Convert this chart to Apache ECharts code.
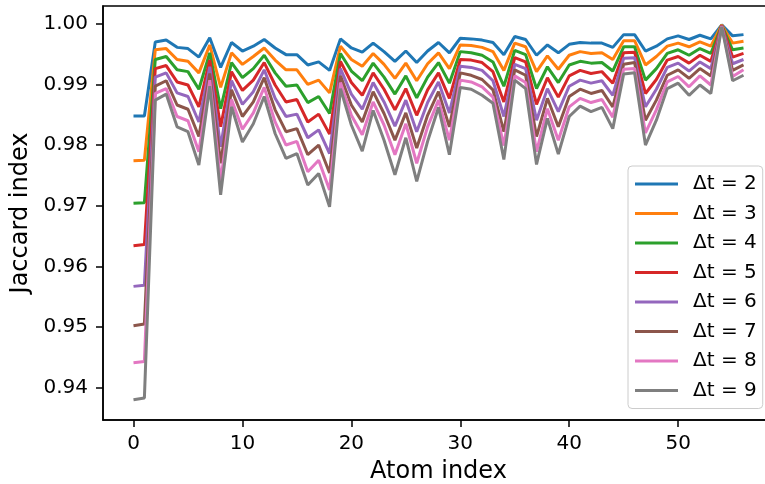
<!DOCTYPE html>
<html>
<head>
<meta charset="utf-8">
<script src="https://cdn.jsdelivr.net/npm/echarts@6/dist/echarts.min.js"></script>
<style>html,body{margin:0;padding:0;background:#fff;}#c{width:765px;height:484px;}</style>
</head>
<body>
<div id="c"></div>
<script>
const seriesNames = ['Δt = 2','Δt = 3','Δt = 4','Δt = 5','Δt = 6','Δt = 7','Δt = 8','Δt = 9'];
const colors = ['#1f77b4','#ff7f0e','#2ca02c','#d62728','#9467bd','#8c564b','#e377c2','#7f7f7f'];
const xTicks = [0,10,20,30,40,50];
const yTicks = [0.94,0.95,0.96,0.97,0.98,0.99,1.00];

const dt2 = [0.9848,0.9848,0.9970,0.9973,0.9961,0.9959,0.9945,0.9977,0.9928,0.9969,0.9955,0.9963,0.9974,0.9960,0.9949,0.9949,0.9932,0.9937,0.9923,0.9975,0.9960,0.9953,0.9968,0.9954,0.9938,0.9955,0.9936,0.9955,0.9969,0.9952,0.9976,0.9975,0.9973,0.9969,0.9949,0.9979,0.9974,0.9948,0.9965,0.9952,0.9966,0.9969,0.9968,0.9968,0.9961,0.9982,0.9982,0.9955,0.9963,0.9975,0.9980,0.9974,0.9981,0.9975,0.9998,0.9980,0.9982];
const dt3 = [0.9774,0.9775,0.9957,0.9959,0.9941,0.9938,0.9919,0.9965,0.9895,0.9952,0.9933,0.9946,0.9960,0.9940,0.9924,0.9924,0.9900,0.9907,0.9886,0.9963,0.9941,0.9930,0.9951,0.9933,0.9910,0.9935,0.9906,0.9934,0.9952,0.9926,0.9965,0.9964,0.9961,0.9954,0.9923,0.9968,0.9962,0.9921,0.9947,0.9925,0.9948,0.9954,0.9951,0.9952,0.9941,0.9972,0.9972,0.9932,0.9946,0.9963,0.9968,0.9962,0.9970,0.9963,0.9998,0.9968,0.9971];
const dt4 = [0.9704,0.9705,0.9941,0.9946,0.9924,0.9921,0.9892,0.9952,0.9860,0.9936,0.9911,0.9926,0.9948,0.9919,0.9897,0.9899,0.9870,0.9880,0.9852,0.9951,0.9922,0.9906,0.9935,0.9912,0.9884,0.9914,0.9878,0.9912,0.9936,0.9902,0.9954,0.9952,0.9948,0.9937,0.9897,0.9956,0.9949,0.9893,0.9929,0.9903,0.9932,0.9938,0.9935,0.9936,0.9922,0.9962,0.9962,0.9907,0.9926,0.9951,0.9957,0.9948,0.9959,0.9951,0.9997,0.9957,0.9960];
const dt5 = [0.9634,0.9636,0.9926,0.9931,0.9904,0.9899,0.9863,0.9940,0.9830,0.9921,0.9890,0.9907,0.9936,0.9899,0.9871,0.9875,0.9838,0.9851,0.9818,0.9938,0.9903,0.9882,0.9919,0.9892,0.9858,0.9893,0.9849,0.9891,0.9919,0.9877,0.9941,0.9940,0.9936,0.9921,0.9871,0.9944,0.9937,0.9867,0.9911,0.9879,0.9914,0.9923,0.9918,0.9921,0.9902,0.9952,0.9953,0.9885,0.9908,0.9940,0.9946,0.9935,0.9948,0.9938,0.9997,0.9945,0.9951];
const dt6 = [0.9567,0.9569,0.9912,0.9919,0.9886,0.9880,0.9838,0.9929,0.9797,0.9906,0.9867,0.9888,0.9924,0.9877,0.9847,0.9851,0.9812,0.9825,0.9786,0.9926,0.9884,0.9859,0.9903,0.9871,0.9831,0.9874,0.9822,0.9870,0.9904,0.9853,0.9930,0.9928,0.9923,0.9906,0.9847,0.9933,0.9926,0.9841,0.9893,0.9855,0.9897,0.9907,0.9902,0.9906,0.9882,0.9943,0.9944,0.9863,0.9892,0.9928,0.9935,0.9922,0.9937,0.9926,0.9996,0.9934,0.9941];
const dt7 = [0.9502,0.9505,0.9897,0.9906,0.9866,0.9859,0.9814,0.9918,0.9770,0.9891,0.9847,0.9871,0.9911,0.9858,0.9822,0.9827,0.9784,0.9800,0.9754,0.9914,0.9866,0.9838,0.9888,0.9852,0.9808,0.9853,0.9795,0.9849,0.9888,0.9830,0.9919,0.9915,0.9908,0.9891,0.9822,0.9924,0.9915,0.9814,0.9877,0.9830,0.9880,0.9892,0.9885,0.9890,0.9863,0.9933,0.9936,0.9841,0.9874,0.9915,0.9924,0.9910,0.9926,0.9914,0.9996,0.9923,0.9932];
const dt8 = [0.9441,0.9443,0.9885,0.9893,0.9847,0.9840,0.9789,0.9907,0.9740,0.9875,0.9826,0.9853,0.9895,0.9838,0.9800,0.9806,0.9756,0.9775,0.9726,0.9903,0.9849,0.9817,0.9871,0.9833,0.9784,0.9835,0.9770,0.9830,0.9874,0.9808,0.9907,0.9904,0.9896,0.9879,0.9799,0.9914,0.9903,0.9789,0.9860,0.9808,0.9863,0.9877,0.9870,0.9875,0.9846,0.9925,0.9926,0.9820,0.9858,0.9904,0.9913,0.9896,0.9914,0.9899,0.9996,0.9913,0.9924];
const dt9 = [0.9380,0.9383,0.9874,0.9884,0.9830,0.9822,0.9767,0.9897,0.9718,0.9863,0.9805,0.9835,0.9880,0.9819,0.9778,0.9786,0.9734,0.9753,0.9698,0.9893,0.9833,0.9790,0.9857,0.9808,0.9751,0.9812,0.9740,0.9806,0.9862,0.9784,0.9895,0.9892,0.9882,0.9869,0.9776,0.9907,0.9893,0.9768,0.9844,0.9785,0.9847,0.9864,0.9855,0.9862,0.9827,0.9917,0.9919,0.9800,0.9841,0.9893,0.9902,0.9882,0.9899,0.9885,0.9995,0.9906,0.9915];

const allSeries = [dt2,dt3,dt4,dt5,dt6,dt7,dt8,dt9];
const FONT = 'DejaVu Sans';

const chart = echarts.init(document.getElementById('c'), null, {renderer:'canvas'});
chart.setOption({
  animation: false,
  backgroundColor: '#ffffff',
  textStyle: {fontFamily: FONT},
  grid: {left: 103, top: 6, width: 671, height: 414, show: true, borderColor: '#000', borderWidth: 1.5, containLabel: false, outerBoundsMode: 'none'},
  xAxis: {
    type: 'value', min: -2.8, max: 58.8,
    name: 'Atom index', nameLocation: 'middle', nameGap: 40,
    nameTextStyle: {fontSize: 24, color: '#000', fontFamily: FONT},
    axisLine: {show: true, onZero: false, lineStyle: {color: '#000', width: 1.5}},
    axisTick: {show: true, length: 7, inside: false, lineStyle: {color: '#000', width: 1.5}, customValues: xTicks},
    axisLabel: {show: true, fontSize: 20, color: '#000', margin: 14, fontFamily: FONT, customValues: xTicks, formatter: v => String(v)},
    splitLine: {show: false}
  },
  yAxis: {
    type: 'value', min: 0.93467, max: 1.00292,
    name: 'Jaccard index', nameLocation: 'middle', nameGap: 68,
    nameTextStyle: {fontSize: 24, color: '#000', fontFamily: FONT},
    axisLine: {show: true, onZero: false, lineStyle: {color: '#000', width: 1.5}},
    axisTick: {show: true, length: 7, lineStyle: {color: '#000', width: 1.5}, customValues: yTicks},
    axisLabel: {show: true, fontSize: 20, color: '#000', margin: 15, fontFamily: FONT, customValues: yTicks, formatter: v => v.toFixed(2)},
    splitLine: {show: false}
  },
  legend: {
    orient: 'vertical', left: 628, top: 166,
    data: seriesNames,
    icon: 'rect', itemWidth: 43, itemHeight: 3, itemGap: 9.5,
    textStyle: {fontSize: 20, lineHeight: 20, color: '#000', fontFamily: FONT, padding: [0,0,0,10]},
    padding: [8, 6, 8, 7],
    backgroundColor: 'rgba(255,255,255,0.8)',
    borderColor: '#cccccc', borderWidth: 1, borderRadius: 4
  },
  series: allSeries.map((arr, k) => ({
    type: 'line', name: seriesNames[k],
    data: arr.map((v, i) => [i, v]),
    showSymbol: false, symbol: 'none',
    lineStyle: {width: 3, color: colors[k]},
    itemStyle: {color: colors[k]},
    clip: true
  }))
});
</script>
</body>
</html>
